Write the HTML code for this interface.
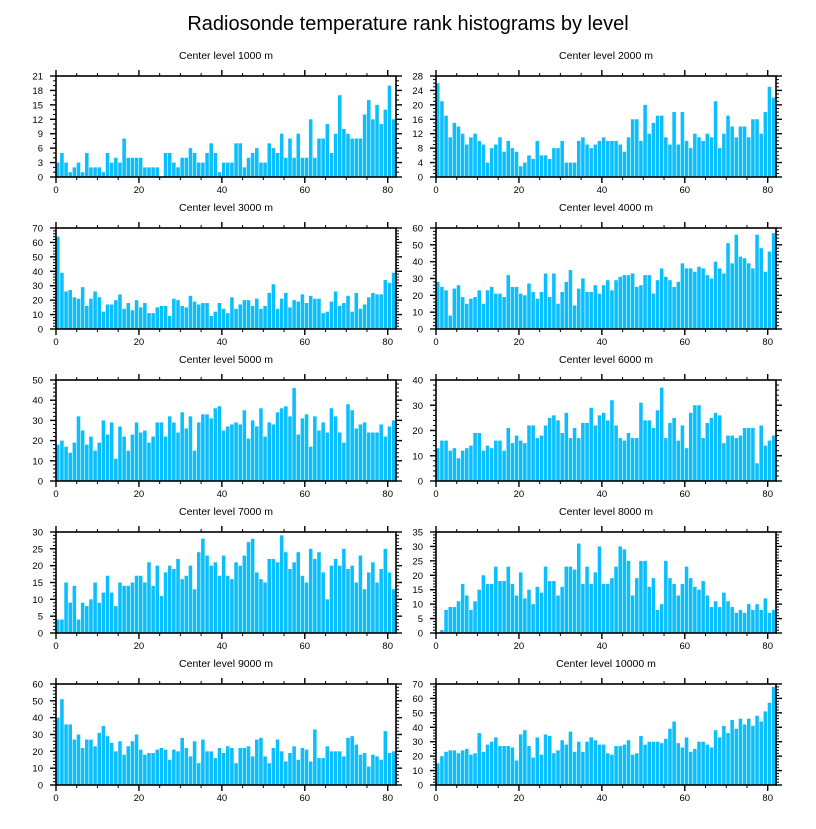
<!DOCTYPE html>
<html><head><meta charset="utf-8"><style>
body{margin:0;background:#fff}
svg text{font-family:"Liberation Sans",sans-serif;fill:#000}
</style></head><body>
<svg id="chart" width="816" height="824" viewBox="0 0 816 824" xmlns="http://www.w3.org/2000/svg">
<text x="408" y="30" font-size="20" text-anchor="middle">Radiosonde temperature rank histograms by level</text>
</svg>
<script>
const levels = [1000,2000,3000,4000,5000,6000,7000,8000,9000,10000];
const yMaxes = [21,28,70,60,50,40,30,35,60,70];
const ySteps = [3,4,10,10,10,10,5,5,10,10];
const xTicks = [0,20,40,60,80];
const counts1000 = [3,5,3,1,2,3,1,5,2,2,2,1,5,3,4,3,8,4,4,4,4,2,2,2,2,0,5,5,3,2,4,4,6,5,3,3,5,7,5,1,3,3,3,7,7,2,4,5,6,3,3,7,6,5,9,4,8,4,9,4,4,12,4,8,8,11,5,9,17,10,9,8,8,8,13,16,12,15,11,14,19,12];
const counts2000 = [26,21,17,11,15,14,12,9,11,12,10,9,4,8,9,11,7,10,8,7,3,4,6,5,10,6,6,5,8,8,10,4,4,4,10,11,9,8,9,10,11,10,10,10,9,7,11,16,16,10,20,12,15,17,17,11,9,18,9,18,10,8,12,11,10,12,11,21,8,12,17,14,11,14,14,11,16,16,12,18,25,22];
const counts3000 = [64,39,26,27,22,21,29,16,21,26,22,12,17,17,20,24,14,18,13,20,15,18,11,11,15,16,16,9,21,20,16,15,23,19,17,18,18,9,12,18,14,11,22,14,17,20,20,16,21,14,16,25,31,14,21,25,15,20,19,24,18,23,21,21,11,12,19,26,16,18,23,12,25,14,17,22,25,24,24,34,32,39];
const counts4000 = [28,25,23,8,24,26,19,15,18,19,23,15,23,25,21,21,19,32,25,25,21,20,27,22,18,22,33,19,33,15,22,28,35,14,24,30,22,22,26,21,26,29,23,29,31,32,32,33,25,26,32,32,21,29,36,31,29,25,28,39,36,36,34,37,36,32,30,40,36,33,51,39,56,43,42,39,36,56,48,34,46,57];
const counts5000 = [18,20,17,14,19,32,25,18,22,15,19,30,23,29,11,27,22,15,23,29,24,25,19,22,29,29,22,32,29,24,34,26,32,15,29,33,33,31,36,37,25,27,28,29,28,35,21,30,27,36,22,29,28,34,36,37,32,46,23,31,33,17,32,25,29,24,36,32,24,19,38,35,26,28,29,24,24,24,28,22,27,30];
const counts6000 = [13,16,16,12,13,9,12,13,14,19,19,12,14,13,16,16,12,21,15,18,16,15,22,22,17,18,22,25,26,24,19,27,17,21,17,23,23,29,22,26,27,24,32,22,17,16,19,17,17,31,24,24,21,28,37,17,23,25,16,22,13,27,30,30,17,23,25,27,26,15,18,18,17,18,21,21,21,7,22,14,16,18];
const counts7000 = [4,4,15,9,14,4,9,8,10,15,9,12,17,12,8,15,14,14,15,17,17,15,21,14,20,11,18,20,19,22,16,17,20,13,24,28,23,20,21,17,23,17,16,21,20,23,27,28,18,16,15,22,22,21,29,24,19,21,24,17,15,25,22,24,18,10,20,22,20,25,19,20,15,23,13,18,21,15,19,25,18,13];
const counts8000 = [0,1,8,9,9,11,17,13,8,11,15,20,17,17,23,18,18,23,17,13,21,12,15,10,16,14,23,18,18,13,16,23,23,22,31,17,23,17,21,30,17,17,19,23,30,29,25,13,19,25,25,16,19,8,10,25,19,17,13,17,23,19,16,15,18,13,9,11,9,14,11,9,7,8,7,10,8,10,8,12,7,8];
const counts9000 = [40,51,36,36,27,30,22,27,27,23,31,35,29,25,20,26,18,23,26,30,21,18,19,19,21,22,21,15,21,20,28,22,17,26,13,27,20,20,16,22,19,23,22,13,22,22,23,17,27,28,17,13,22,27,20,14,19,23,15,22,21,14,33,16,16,23,20,20,20,17,28,29,24,18,19,11,18,17,15,32,19,20];
const counts10000 = [15,20,23,24,24,22,24,25,21,22,36,23,28,30,33,27,27,27,26,17,35,38,27,19,33,21,35,34,22,24,31,28,37,23,30,23,30,33,31,28,28,22,21,27,27,28,31,21,22,34,28,30,30,30,29,32,39,44,29,26,33,23,25,30,30,28,26,38,33,41,36,45,39,46,42,46,41,48,44,51,57,68];
const allCounts = [counts1000,counts2000,counts3000,counts4000,counts5000,counts6000,counts7000,counts8000,counts9000,counts10000];

const NS = "http://www.w3.org/2000/svg";
const svg = document.getElementById('chart');
function mk(tag, attrs, parent){const e=document.createElementNS(NS,tag);for(const k in attrs)e.setAttribute(k,attrs[k]);parent.appendChild(e);return e;}

const PW = 340, PH = 101, XMAX = 82;
for (let p = 0; p < 10; p++) {
  const col = p % 2, row = Math.floor(p / 2);
  const x0 = col ? 436 : 56, y0 = 76 + 152 * row;
  const ymax = yMaxes[p], step = ySteps[p], data = allCounts[p];
  const sx = v => x0 + v / XMAX * PW;
  const sy = v => y0 + PH - v / ymax * PH;
  const g = mk('g', {}, svg);
  
  
  const t = mk('text', {x: x0 + PW / 2, y: y0 - 17, 'font-size': 10.5, 'text-anchor': 'middle'}, g);
  t.textContent = 'Center level ' + levels[p] + ' m';
  
  
  for (let i = 0; i < data.length; i++) {
    const v = Math.min(data[i], ymax);
    if (v <= 0) continue;
    const b = mk('rect', {x: sx(i), y: sy(v), width: sx(i + 1) - sx(i) - 0.6, height: sy(0) - sy(v), fill: '#0ABFFF'}, g);
    
    
  }
  const fr = mk('rect', {x: x0, y: y0, width: PW, height: PH, fill: 'none', stroke: '#000', 'stroke-width': 1.6}, g);
  
  
  // x ticks
  for (let v = 0; v <= 80; v += 5) {
    const major = v % 20 === 0, L = major ? 6 : 3, x = sx(v);
    mk('line', {x1: x, x2: x, y1: y0 + PH, y2: y0 + PH + L, stroke: '#000', 'stroke-width': major ? 1.4 : 1}, g);
    mk('line', {x1: x, x2: x, y1: y0, y2: y0 - L, stroke: '#000', 'stroke-width': major ? 1.4 : 1}, g);
  }
  for (const v of xTicks) {
    const lt = mk('text', {x: sx(v), y: y0 + PH + 16, 'font-size': 9.5, 'text-anchor': 'middle'}, g);
    lt.textContent = v;
    
    
  }
  // y ticks
  const minor = step === 10 ? 2 : 1;
  for (let v = 0; v <= ymax + 1e-9; v += minor) {
    const major = Math.abs(v / step - Math.round(v / step)) < 1e-9, L = major ? 6 : 3, y = sy(v);
    mk('line', {x1: x0, x2: x0 - L, y1: y, y2: y, stroke: '#000', 'stroke-width': major ? 1.4 : 1}, g);
    mk('line', {x1: x0 + PW, x2: x0 + PW + L, y1: y, y2: y, stroke: '#000', 'stroke-width': major ? 1.4 : 1}, g);
  }
  for (let v = 0; v <= ymax + 1e-9; v += step) {
    const lt = mk('text', {x: x0 - 13, y: sy(v) + 3.5, 'font-size': 9.5, 'text-anchor': 'end'}, g);
    lt.textContent = v;
    
    
  }
}
</script>
</body></html>
